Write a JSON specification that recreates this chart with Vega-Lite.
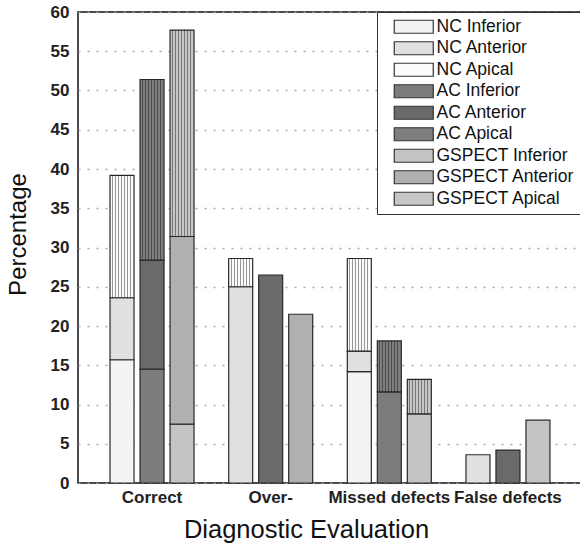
{
  "$schema": "https://vega.github.io/schema/vega-lite/v6.json",
  "width": 504,
  "height": 471,
  "autosize": {"type": "none"},
  "padding": {"left": 78, "top": 12, "right": 0, "bottom": 63},
  "background": "white",
  "config": {
    "font": "Liberation Sans",
    "view": {"stroke": "#111", "strokeWidth": 1.5}
  },
  "data": {
    "values": [
      {"group": "Correct", "method": "NC", "region": 1, "label": "NC Inferior", "value": 15.7},
      {"group": "Correct", "method": "NC", "region": 2, "label": "NC Anterior", "value": 7.9},
      {"group": "Correct", "method": "NC", "region": 3, "label": "NC Apical", "value": 15.6},
      {"group": "Correct", "method": "AC", "region": 1, "label": "AC Inferior", "value": 14.5},
      {"group": "Correct", "method": "AC", "region": 2, "label": "AC  Anterior", "value": 13.9},
      {"group": "Correct", "method": "AC", "region": 3, "label": "AC Apical", "value": 23.0},
      {"group": "Correct", "method": "GSPECT", "region": 1, "label": "GSPECT Inferior", "value": 7.5},
      {"group": "Correct", "method": "GSPECT", "region": 2, "label": "GSPECT Anterior", "value": 23.9},
      {"group": "Correct", "method": "GSPECT", "region": 3, "label": "GSPECT Apical", "value": 26.3},
      {"group": "Over-", "method": "NC", "region": 2, "label": "NC Anterior", "value": 25.0},
      {"group": "Over-", "method": "NC", "region": 3, "label": "NC Apical", "value": 3.6},
      {"group": "Over-", "method": "AC", "region": 2, "label": "AC  Anterior", "value": 26.5},
      {"group": "Over-", "method": "GSPECT", "region": 2, "label": "GSPECT Anterior", "value": 21.5},
      {"group": "Missed defects", "method": "NC", "region": 1, "label": "NC Inferior", "value": 14.2},
      {"group": "Missed defects", "method": "NC", "region": 2, "label": "NC Anterior", "value": 2.6},
      {"group": "Missed defects", "method": "NC", "region": 3, "label": "NC Apical", "value": 11.8},
      {"group": "Missed defects", "method": "AC", "region": 1, "label": "AC Inferior", "value": 11.6},
      {"group": "Missed defects", "method": "AC", "region": 3, "label": "AC Apical", "value": 6.5},
      {"group": "Missed defects", "method": "GSPECT", "region": 1, "label": "GSPECT Inferior", "value": 8.8},
      {"group": "Missed defects", "method": "GSPECT", "region": 3, "label": "GSPECT Apical", "value": 4.4},
      {"group": "False defects", "method": "NC", "region": 2, "label": "NC Anterior", "value": 3.6},
      {"group": "False defects", "method": "AC", "region": 2, "label": "AC  Anterior", "value": 4.2},
      {"group": "False defects", "method": "GSPECT", "region": 1, "label": "GSPECT Inferior", "value": 8.0}
    ]
  },
  "transform": [
    {"stack": "value", "groupby": ["group", "method"], "sort": [{"field": "region", "order": "ascending"}], "as": ["v0", "v1"]}
  ],
  "encoding": {
    "x": {
      "field": "group",
      "type": "nominal",
      "sort": ["Correct", "Over-", "Missed defects", "False defects"],
      "scale": {"paddingInner": 0.292, "paddingOuter": 0.27},
      "axis": {
        "title": "Diagnostic Evaluation",
        "titleX": 228,
        "titleFontSize": 25.5,
        "titleFontWeight": "normal",
        "titleColor": "#111",
        "titlePadding": 12,
        "labelAngle": 0,
        "labelFontSize": 17,
        "labelFontWeight": "bold",
        "labelColor": "#222",
        "labelPadding": 6,
        "ticks": false,
        "domain": false
      }
    },
    "xOffset": {
      "field": "method",
      "type": "nominal",
      "sort": ["NC", "AC", "GSPECT"],
      "scale": {"paddingInner": 0.2, "paddingOuter": 0}
    },
    "y": {
      "field": "v1",
      "type": "quantitative",
      "scale": {"domain": [0, 60], "nice": false},
      "axis": {
        "title": "Percentage",
        "titleY": 222,
        "titleFontSize": 24,
        "titleFontWeight": "normal",
        "titleColor": "#111",
        "titlePadding": 20,
        "values": [0, 5, 10, 15, 20, 25, 30, 35, 40, 45, 50, 55, 60],
        "labelFontSize": 17,
        "labelFontWeight": "bold",
        "labelColor": "#222",
        "labelPadding": 9,
        "ticks": false,
        "domain": false,
        "grid": true,
        "gridColor": "#aaaaaa",
        "gridWidth": 1.5,
        "gridDash": [2, 7]
      }
    },
    "y2": {"field": "v0"}
  },
  "layer": [
    {
      "mark": {"type": "bar", "stroke": "#2a2a2a", "strokeWidth": 1.2},
      "encoding": {
        "color": {
          "field": "label",
          "type": "nominal",
          "scale": {
            "domain": ["NC Inferior", "NC Anterior", "NC Apical", "AC Inferior", "AC  Anterior", "AC Apical", "GSPECT Inferior", "GSPECT Anterior", "GSPECT Apical"],
            "range": ["#f3f3f3", "#e0e0e0", "#fbfbfb", "#7c7c7c", "#6a6a6a", "#7e7e7e", "#c4c4c4", "#b0b0b0", "#c6c6c6"]
          },
          "legend": {
            "title": null,
            "orient": "none",
            "legendX": 299,
            "legendY": 0,
            "direction": "vertical",
            "padding": 6,
            "fillColor": "white",
            "strokeColor": "#333",
            "symbolType": "M0.385,-1H6.385V1H0.385Z",
            "symbolSize": 169,
            "symbolStrokeColor": "#333",
            "symbolStrokeWidth": 1.2,
            "symbolOpacity": 1,
            "labelFontSize": 17.5,
            "labelColor": "#111",
            "labelOffset": 36,
            "labelLimit": 300,
            "rowPadding": 2.5
          }
        }
      }
    },
    {
      "transform": [{"filter": "datum.region === 3"}],
      "mark": {
        "type": "bar",
        "strokeWidth": 0,
        "fill": {
          "gradient": "linear",
          "x1": 0, "y1": 0, "x2": 1, "y2": 0,
          "stops": [
            {"offset": 0, "color": "rgba(0,0,0,0)"},
            {"offset": 0.085, "color": "rgba(0,0,0,0)"},
            {"offset": 0.085, "color": "rgba(0,0,0,0.4)"},
            {"offset": 0.125, "color": "rgba(0,0,0,0.4)"},
            {"offset": 0.125, "color": "rgba(0,0,0,0)"},
            {"offset": 0.21, "color": "rgba(0,0,0,0)"},
            {"offset": 0.21, "color": "rgba(0,0,0,0.4)"},
            {"offset": 0.25, "color": "rgba(0,0,0,0.4)"},
            {"offset": 0.25, "color": "rgba(0,0,0,0)"},
            {"offset": 0.335, "color": "rgba(0,0,0,0)"},
            {"offset": 0.335, "color": "rgba(0,0,0,0.4)"},
            {"offset": 0.375, "color": "rgba(0,0,0,0.4)"},
            {"offset": 0.375, "color": "rgba(0,0,0,0)"},
            {"offset": 0.46, "color": "rgba(0,0,0,0)"},
            {"offset": 0.46, "color": "rgba(0,0,0,0.4)"},
            {"offset": 0.5, "color": "rgba(0,0,0,0.4)"},
            {"offset": 0.5, "color": "rgba(0,0,0,0)"},
            {"offset": 0.585, "color": "rgba(0,0,0,0)"},
            {"offset": 0.585, "color": "rgba(0,0,0,0.4)"},
            {"offset": 0.625, "color": "rgba(0,0,0,0.4)"},
            {"offset": 0.625, "color": "rgba(0,0,0,0)"},
            {"offset": 0.71, "color": "rgba(0,0,0,0)"},
            {"offset": 0.71, "color": "rgba(0,0,0,0.4)"},
            {"offset": 0.75, "color": "rgba(0,0,0,0.4)"},
            {"offset": 0.75, "color": "rgba(0,0,0,0)"},
            {"offset": 0.835, "color": "rgba(0,0,0,0)"},
            {"offset": 0.835, "color": "rgba(0,0,0,0.4)"},
            {"offset": 0.875, "color": "rgba(0,0,0,0.4)"},
            {"offset": 0.875, "color": "rgba(0,0,0,0)"},
            {"offset": 0.96, "color": "rgba(0,0,0,0)"},
            {"offset": 1, "color": "rgba(0,0,0,0)"}
          ]
        }
      }
    }
  ]
}
